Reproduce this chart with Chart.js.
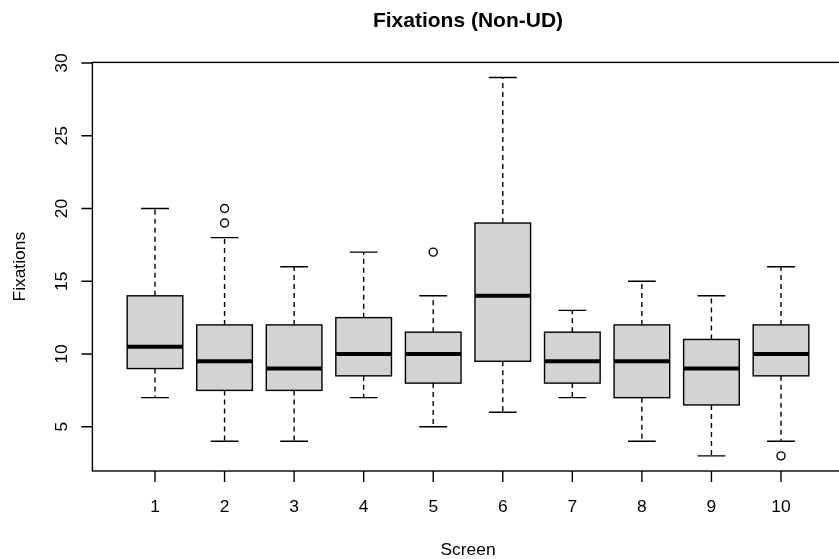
<!DOCTYPE html>
<html>
<head>
<meta charset="utf-8">
<script src="https://cdn.jsdelivr.net/npm/chart.js@4"></script>
<style>
  body { margin: 0; background: #fff; overflow: hidden; }
  #wrap { width: 839px; height: 559px; overflow: hidden; }
</style>
</head>
<body>
<div id="wrap"><canvas id="myChart" width="845" height="559"></canvas></div>
<script>
// boxplot stats per screen
const screens = [1, 2, 3, 4, 5, 6, 7, 8, 9, 10];
const lowWhisker = [7, 4, 4, 7, 5, 6, 7, 4, 3, 4];
const q1 = [9, 7.5, 7.5, 8.5, 8, 9.5, 8, 7, 6.5, 8.5];
const medians = [10.5, 9.5, 9, 10, 10, 14, 9.5, 9.5, 9, 10];
const q3 = [14, 12, 12, 12.5, 11.5, 19, 11.5, 12, 11, 12];
const highWhisker = [20, 18, 16, 17, 14, 29, 13, 15, 14, 16];
const outlierX = [2, 2, 5, 10];
const outlierY = [19, 20, 17, 3];
const yTicks = [5, 10, 15, 20, 25, 30];

const FONT = '"Liberation Sans", Arial, Helvetica, sans-serif';
const LW = 1.4;

const rBoxPlot = {
  id: 'rBoxPlot',
  beforeDatasetsDraw(chart) {
    const ctx = chart.ctx;
    const x = chart.scales.x, y = chart.scales.y;
    const halfBox = x.getPixelForValue(1.4) - x.getPixelForValue(1);
    const halfCap = halfBox / 2;
    ctx.save();
    ctx.strokeStyle = '#000';
    ctx.lineWidth = LW;
    for (let i = 0; i < screens.length; i++) {
      const cx = x.getPixelForValue(screens[i]);
      const yLo = y.getPixelForValue(lowWhisker[i]);
      const yQ1 = y.getPixelForValue(q1[i]);
      const yMed = y.getPixelForValue(medians[i]);
      const yQ3 = y.getPixelForValue(q3[i]);
      const yHi = y.getPixelForValue(highWhisker[i]);
      // whiskers (dashed)
      ctx.setLineDash([5, 4]);
      ctx.beginPath();
      ctx.moveTo(cx, yQ1); ctx.lineTo(cx, yLo);
      ctx.moveTo(cx, yQ3); ctx.lineTo(cx, yHi);
      ctx.stroke();
      ctx.setLineDash([]);
      // staples
      ctx.beginPath();
      ctx.moveTo(cx - halfCap, yLo); ctx.lineTo(cx + halfCap, yLo);
      ctx.moveTo(cx - halfCap, yHi); ctx.lineTo(cx + halfCap, yHi);
      ctx.stroke();
      // box
      ctx.fillStyle = '#d3d3d3';
      ctx.fillRect(cx - halfBox, yQ3, halfBox * 2, yQ1 - yQ3);
      ctx.strokeRect(cx - halfBox, yQ3, halfBox * 2, yQ1 - yQ3);
      // median
      ctx.lineWidth = 4;
      ctx.beginPath();
      ctx.moveTo(cx - halfBox, yMed); ctx.lineTo(cx + halfBox, yMed);
      ctx.stroke();
      ctx.lineWidth = LW;
    }
    ctx.restore();
  },
  afterDraw(chart) {
    const ctx = chart.ctx;
    const x = chart.scales.x, y = chart.scales.y;
    const a = chart.chartArea;
    ctx.save();
    ctx.strokeStyle = '#000';
    ctx.fillStyle = '#000';
    ctx.lineWidth = LW;
    // frame
    ctx.strokeRect(a.left, a.top, a.right - a.left, a.bottom - a.top);
    // x axis ticks
    ctx.beginPath();
    screens.forEach(s => {
      const px = x.getPixelForValue(s);
      ctx.moveTo(px, a.bottom); ctx.lineTo(px, a.bottom + 11);
    });
    ctx.stroke();
    ctx.font = '17.4px ' + FONT;
    ctx.textAlign = 'center';
    ctx.textBaseline = 'alphabetic';
    screens.forEach(s => {
      ctx.fillText(String(s), x.getPixelForValue(s), 511.5);
    });
    // y axis ticks
    ctx.beginPath();
    yTicks.forEach(v => {
      const py = y.getPixelForValue(v);
      ctx.moveTo(a.left, py); ctx.lineTo(a.left - 11, py);
    });
    ctx.stroke();
    yTicks.forEach(v => {
      ctx.save();
      ctx.translate(67, y.getPixelForValue(v));
      ctx.rotate(-Math.PI / 2);
      ctx.fillText(String(v), 0, 0);
      ctx.restore();
    });
    // axis titles
    ctx.fillText('Screen', (a.left + a.right) / 2, 555);
    ctx.save();
    ctx.translate(25, (a.top + a.bottom) / 2);
    ctx.rotate(-Math.PI / 2);
    ctx.fillText('Fixations', 0, 0);
    ctx.restore();
    // main title
    ctx.font = 'bold 21px ' + FONT;
    ctx.fillText('Fixations (Non-UD)', (a.left + a.right) / 2, 27);
    ctx.restore();
  }
};

const ctx = document.getElementById('myChart').getContext('2d');
new Chart(ctx, {
  type: 'scatter',
  data: {
    datasets: [{
      label: 'Outliers',
      data: outlierX.map((v, i) => ({ x: v, y: outlierY[i] })),
      pointStyle: 'circle',
      pointRadius: 4,
      pointBorderWidth: LW,
      pointBorderColor: '#000',
      pointBackgroundColor: 'rgba(0,0,0,0)'
    }]
  },
  options: {
    responsive: false,
    animation: false,
    devicePixelRatio: 1,
    layout: { autoPadding: false, padding: { left: 92.4, top: 62.4, right: 1.4, bottom: 88 } },
    scales: {
      x: { type: 'linear', min: 0.1, max: 10.9, display: false },
      y: { type: 'linear', min: 1.96, max: 30.04, display: false }
    },
    plugins: {
      legend: { display: false },
      tooltip: { enabled: false },
      title: { display: false }
    }
  },
  plugins: [rBoxPlot]
});
</script>
</body>
</html>
